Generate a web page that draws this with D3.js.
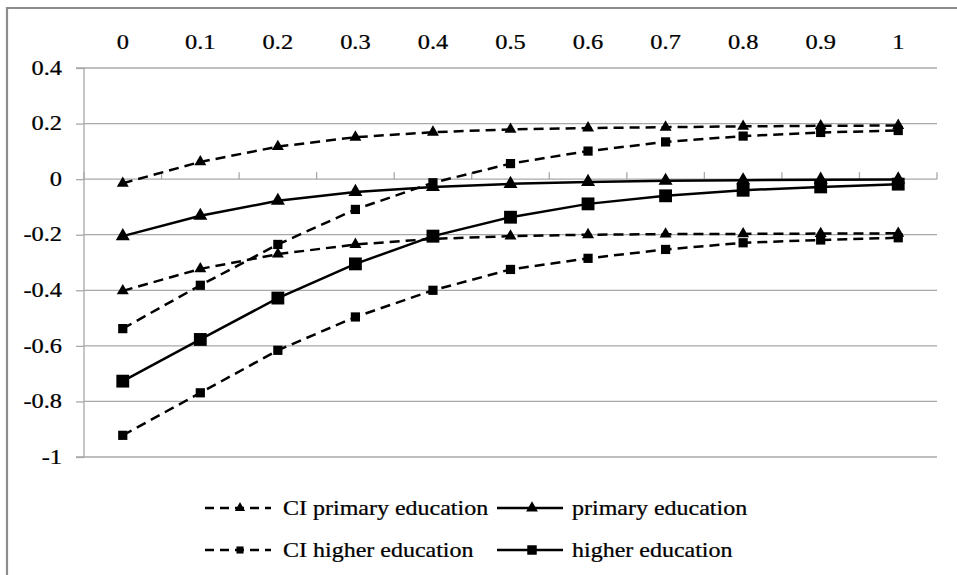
<!DOCTYPE html>
<html>
<head>
<meta charset="utf-8">
<script src="https://cdn.jsdelivr.net/npm/d3@7"></script>
<style>
  html, body { margin: 0; padding: 0; background: #fff; }
  svg text { font-family: "Liberation Serif", "Times New Roman", serif; fill: #000; stroke: #000; stroke-width: 0.25px; }
</style>
</head>
<body>
<svg id="chart" width="957" height="575"></svg>
<script>
// Shares (x) and estimated effects with confidence bounds
const categories = ["0", "0.1", "0.2", "0.3", "0.4", "0.5", "0.6", "0.7", "0.8", "0.9", "1"];
const yTicks = [0.4, 0.2, 0, -0.2, -0.4, -0.6, -0.8, -1];
const yTickLabels = ["0.4", "0.2", "0", "-0.2", "-0.4", "-0.6", "-0.8", "-1"];

const ciPrimaryUpper = [-0.015, 0.062, 0.117, 0.151, 0.169, 0.179, 0.184, 0.187, 0.190, 0.192, 0.193];
const primary        = [-0.205, -0.132, -0.078, -0.046, -0.028, -0.017, -0.010, -0.006, -0.004, -0.002, -0.001];
const ciPrimaryLower = [-0.402, -0.323, -0.270, -0.235, -0.215, -0.205, -0.200, -0.198, -0.197, -0.196, -0.195];
const ciHigherUpper  = [-0.538, -0.382, -0.235, -0.109, -0.013, 0.056, 0.101, 0.134, 0.155, 0.168, 0.175];
const higher         = [-0.727, -0.577, -0.428, -0.305, -0.205, -0.137, -0.089, -0.060, -0.040, -0.028, -0.018];
const ciHigherLower  = [-0.922, -0.769, -0.616, -0.496, -0.400, -0.325, -0.285, -0.253, -0.229, -0.219, -0.211];

const legendLabels = ["CI primary education", "primary education", "CI higher education", "higher education"];

const series = [
  { values: ciPrimaryUpper, dashed: true,  symbol: d3.symbolTriangle, size: 62 },
  { values: ciPrimaryLower, dashed: true,  symbol: d3.symbolTriangle, size: 62 },
  { values: primary,        dashed: false, symbol: d3.symbolTriangle, size: 85 },
  { values: ciHigherUpper,  dashed: true,  symbol: d3.symbolSquare,   size: 85 },
  { values: ciHigherLower,  dashed: true,  symbol: d3.symbolSquare,   size: 85 },
  { values: higher,         dashed: false, symbol: d3.symbolSquare,   size: 165 }
];

const SX_TICK = 1.22;      // horizontal stretch of the serif tick labels
const SX_LEG = 1.2;        // horizontal stretch of the legend labels
const GRID = "#a8a8a8";
const DASH = "10,6";

const svg = d3.select("#chart");

// outer frame (left and top edges)
svg.append("path")
  .attr("d", "M7,575 L7,8 L957,8")
  .attr("fill", "none").attr("stroke", "#8c8c8c").attr("stroke-width", 2.2);

const plot = { left: 84, right: 937, top: 68, bottom: 457 };
const x = d3.scaleBand().domain(categories).range([plot.left, plot.right]).padding(0);
const y = d3.scaleLinear().domain([-1, 0.4]).range([plot.bottom, plot.top]);
const cx = c => x(c) + x.bandwidth() / 2;

// horizontal gridlines
svg.append("g")
  .selectAll("line").data(yTicks.filter(v => v !== 0)).join("line")
  .attr("x1", plot.left).attr("x2", plot.right)
  .attr("y1", d => y(d)).attr("y2", d => y(d))
  .attr("stroke", GRID).attr("stroke-width", 1.3);

// value axis with outward ticks
const yAxis = svg.append("g")
  .attr("transform", `translate(${plot.left},0)`)
  .call(d3.axisLeft(y).tickValues(yTicks).tickSize(8).tickFormat(""));
yAxis.selectAll("path, line").attr("stroke", GRID).attr("stroke-width", 1.3);
yAxis.select(".domain").attr("d", `M-8,${y(0.4)}H0V${plot.bottom}H-8`);

// category axis crossing at zero, ticks between categories pointing up
const xAxis = svg.append("g")
  .attr("transform", `translate(0,${y(0)})`)
  .call(d3.axisTop(x).tickSize(0).tickFormat(""));
xAxis.select(".domain").attr("stroke", GRID).attr("stroke-width", 1.3).attr("d", `M${plot.left},0H${plot.right}`);
const bounds = categories.map(c => x(c)).concat([x(categories[categories.length - 1]) + x.bandwidth()]);
xAxis.selectAll(".bnd").data(bounds).join("line").attr("class", "bnd")
  .attr("x1", d => d).attr("x2", d => d).attr("y1", -7).attr("y2", 0)
  .attr("stroke", GRID).attr("stroke-width", 1.3);

function stretchedText(parent, px, py, txt, anchor, size, sx) {
  parent.append("text")
    .attr("transform", `translate(${px},${py}) scale(${sx},1)`)
    .attr("text-anchor", anchor)
    .attr("dominant-baseline", "central")
    .style("font-size", size + "px")
    .text(txt);
}

// category labels above the plot
const topLabels = svg.append("g");
categories.forEach(c => stretchedText(topLabels, cx(c), 42, c, "middle", 20, SX_TICK));

// value labels
const leftLabels = svg.append("g");
yTicks.forEach((v, i) => stretchedText(leftLabels, 62, y(v), yTickLabels[i], "end", 20, SX_TICK));

// series lines and markers
const line = d3.line().x((d, i) => cx(categories[i])).y(d => y(d));
const marks = svg.append("g");
series.forEach(s => {
  marks.append("path")
    .attr("d", line(s.values))
    .attr("fill", "none").attr("stroke", "#000")
    .attr("stroke-width", 2.5)
    .attr("stroke-dasharray", s.dashed ? DASH : null);
});
series.forEach(s => {
  marks.append("g").selectAll("path").data(s.values).join("path")
    .attr("transform", (d, i) => `translate(${cx(categories[i])},${y(d)})`)
    .attr("d", d3.symbol(s.symbol, s.size)())
    .attr("fill", "#000");
});

// legend
const legendItems = [
  { label: legendLabels[0], dashed: true,  symbol: d3.symbolTriangle, size: 45, lx: 205, ly: 508 },
  { label: legendLabels[1], dashed: false, symbol: d3.symbolTriangle, size: 60, lx: 497, ly: 508 },
  { label: legendLabels[2], dashed: true,  symbol: d3.symbolSquare,   size: 50, lx: 205, ly: 550 },
  { label: legendLabels[3], dashed: false, symbol: d3.symbolSquare,   size: 90, lx: 497, ly: 550 }
];
const legend = svg.append("g");
legendItems.forEach(it => {
  const g = legend.append("g");
  g.append("line")
    .attr("x1", it.lx).attr("x2", it.lx + 66).attr("y1", it.ly).attr("y2", it.ly)
    .attr("stroke", "#000").attr("stroke-width", 2.5)
    .attr("stroke-dasharray", it.dashed ? "9,6" : null);
  g.append("path")
    .attr("transform", `translate(${it.lx + 35},${it.ly})`)
    .attr("d", d3.symbol(it.symbol, it.size)())
    .attr("fill", "#000");
  stretchedText(g, it.lx + (it.dashed ? 78 : 75), it.ly, it.label, "start", 20, SX_LEG);
});
</script>
</body>
</html>
